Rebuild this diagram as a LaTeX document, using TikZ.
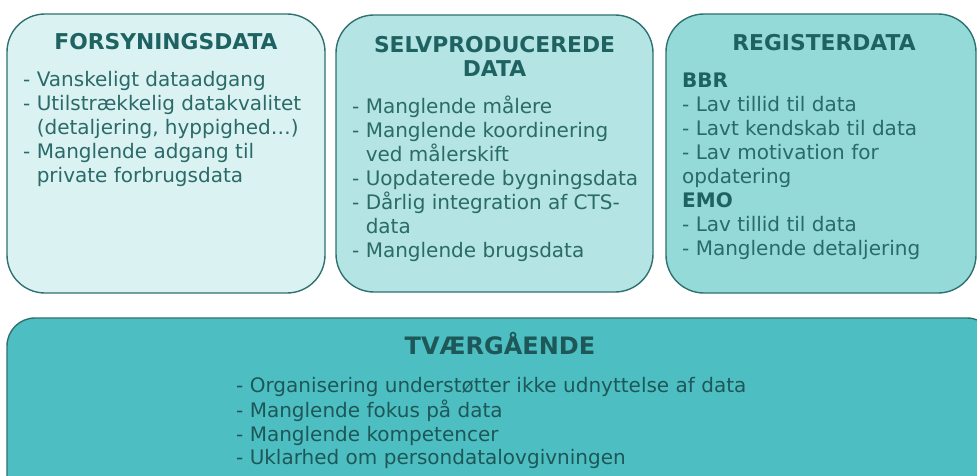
\documentclass[tikz,border=0pt]{standalone}
\usepackage{fontspec}
\setmainfont{DejaVu Sans}
\definecolor{fillA}{HTML}{DBF2F3}
\definecolor{fillB}{HTML}{B4E4E3}
\definecolor{fillC}{HTML}{93DAD8}
\definecolor{fillD}{HTML}{4DBFC3}
\definecolor{edge}{HTML}{2F7070}
\definecolor{txt}{HTML}{2A6A68}
\definecolor{head}{HTML}{1F6262}
\definecolor{txtD}{HTML}{1E5757}
\newcommand\bodyfont{\fontsize{20}{24}\selectfont}
\newcommand\headfont{\fontsize{21.8}{24}\selectfont\bfseries}
\newcommand\ind{\phantom{- }}
\tikzset{
  panel/.style={draw=edge, line width=1.4pt, rounded corners=38pt},
  bodytext/.style={anchor=north west, inner sep=0pt, align=left, font=\bodyfont, text=txt},
  headtext/.style={inner sep=0pt, align=center, font=\headfont, text=head},
}
\begin{document}
\begin{tikzpicture}[x=1pt,y=-1pt]
\useasboundingbox (0,0) rectangle (977,476);
\begin{scope}
\clip (0,0) rectangle (977,476);
% panels
\path[panel, fill=fillA] (7,14) rectangle (325,293);
\path[panel, fill=fillB] (336,15) rectangle (653,292);
\path[panel, fill=fillC] (666,14) rectangle (976,293);
\path[panel, fill=fillD, rounded corners=28pt] (7,318) rectangle (995,505);
\end{scope}
% box 1
\node[headtext, anchor=base] (h1) at (166,50) {FORSYNINGSDATA};
\node[bodytext] (t1) at (23,69.2) {\strut- Vanskeligt dataadgang\\
- Utilstrækkelig datakvalitet\\
\ind(detaljering, hyppighed…)\\
- Manglende adgang til\\
\ind private forbrugsdata};
% box 2
\node[headtext, anchor=north] (h2) at (494.5,35.2) {\strut SELVPRODUCEREDE\\DATA};
\node[bodytext] (t2) at (352,96.2) {\strut- Manglende målere\\
- Manglende koordinering\\
\ind ved målerskift\\
- Uopdaterede bygningsdata\\
- Dårlig integration af CTS-\\
\ind data\\
- Manglende brugsdata};
% box 3
\node[headtext, anchor=base] (h3) at (824,51) {REGISTERDATA};
\node[bodytext] (t3) at (682,70.2) {\strut\textbf{\color{head}BBR}\\
- Lav tillid til data\\
- Lavt kendskab til data\\
- Lav motivation for\\
opdatering\\
\textbf{\color{head}EMO}\\
- Lav tillid til data\\
- Manglende detaljering};
% bottom
\node[headtext, anchor=base, font=\fontsize{24}{28}\selectfont\bfseries, text=txtD] (h4) at (500,354) {TVÆRGÅENDE};
\node[bodytext, text=txtD, font=\fontsize{20}{23.5}\selectfont] (t4) at (236,375.55) {\strut- Organisering understøtter ikke udnyttelse af data\\
- Manglende fokus på data\\
- Manglende kompetencer\\
- Uklarhed om persondatalovgivningen};
\end{tikzpicture}
\end{document}
